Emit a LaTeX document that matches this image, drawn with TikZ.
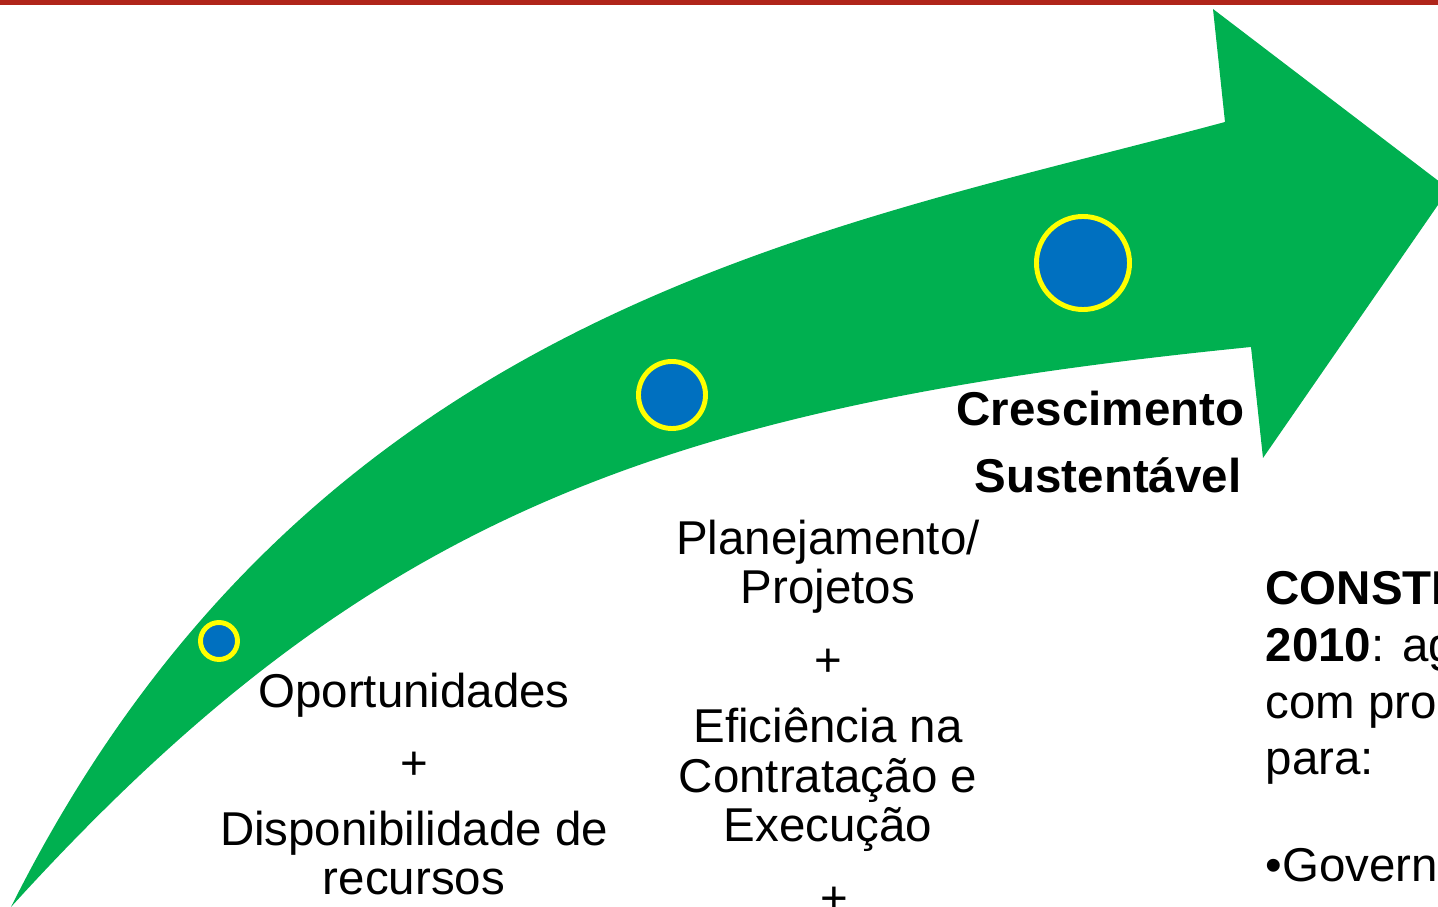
\documentclass[tikz,border=0pt]{standalone}
\usepackage{fontspec}
\setmainfont{Liberation Sans}
\usepackage{tikz}
\usetikzlibrary{positioning}
\definecolor{verde}{HTML}{00B050}
\definecolor{azul}{HTML}{0070C0}
\definecolor{amarelo}{HTML}{FFFF00}
\definecolor{faixa}{HTML}{B0251A}
\tikzstyle{ponto} = [circle, draw=amarelo, fill=azul, line width=1.4pt, inner sep=0pt]
\tikzstyle{rotulo} = [inner sep=0pt, align=center, font=\fontsize{13.5}{14.2}\selectfont]
\tikzstyle{destaque} = [inner sep=0pt, font=\fontsize{13.5}{14.2}\selectfont\bfseries]
\tikzstyle{lista} = [inner sep=0pt, align=left, font=\fontsize{13.5}{16.2}\selectfont]

\begin{document}
\begin{tikzpicture}[x=0.01cm, y=-0.01cm]
	\useasboundingbox (0,0) rectangle (1438,907);
	\clip (0,0) rectangle (1438,907);
	\fill[faixa] (0,0) rectangle (1438,5);
	% seta verde
	\fill[verde] (11,907) .. controls (311,307) and (825,230) .. (1225,122)
		-- (1213,9) -- (1449,189) -- (1263,458) -- (1251,347)
		.. controls (651,407) and (361,522) .. (11,907) -- cycle;
	% pontos
	\node[ponto, minimum size=0.37cm] (p1) at (219,641) {};
	\node[ponto, minimum size=0.67cm] (p2) at (672,395) {};
	\node[ponto, minimum size=0.93cm] (p3) at (1083,263) {};
	% textos
	\node[rotulo, anchor=base] (oport) at (414,708) {Oportunidades};
	\node[rotulo, anchor=base] (mais1) at (414,780) {+};
	\node[rotulo, anchor=base] (recur) at (414,895) {Disponibilidade de\\recursos};
	\node[rotulo, anchor=base] (plan) at (828,604) {Planejamento/\\Projetos};
	\node[rotulo, anchor=base] (mais2) at (828,677) {+};
	\node[rotulo, anchor=base] (efic) at (828,842) {Eficiência na\\Contratação e\\Execução};
	\node[rotulo, anchor=base] (mais3) at (834,915) {+};
	\node[destaque, anchor=base east] (cresc) at (1245,426) {Crescimento};
	\node[destaque, anchor=base east] (sust) at (1242,493) {Sustentável};
	\node[lista, anchor=base west] (lei) at (1265,775) {\textbf{CONSTR}\\\textbf{2010}: ag\\com pro\\para:};
	\node[lista, anchor=base west] (gov) at (1265,882) {•Govern};
\end{tikzpicture}
\end{document}
